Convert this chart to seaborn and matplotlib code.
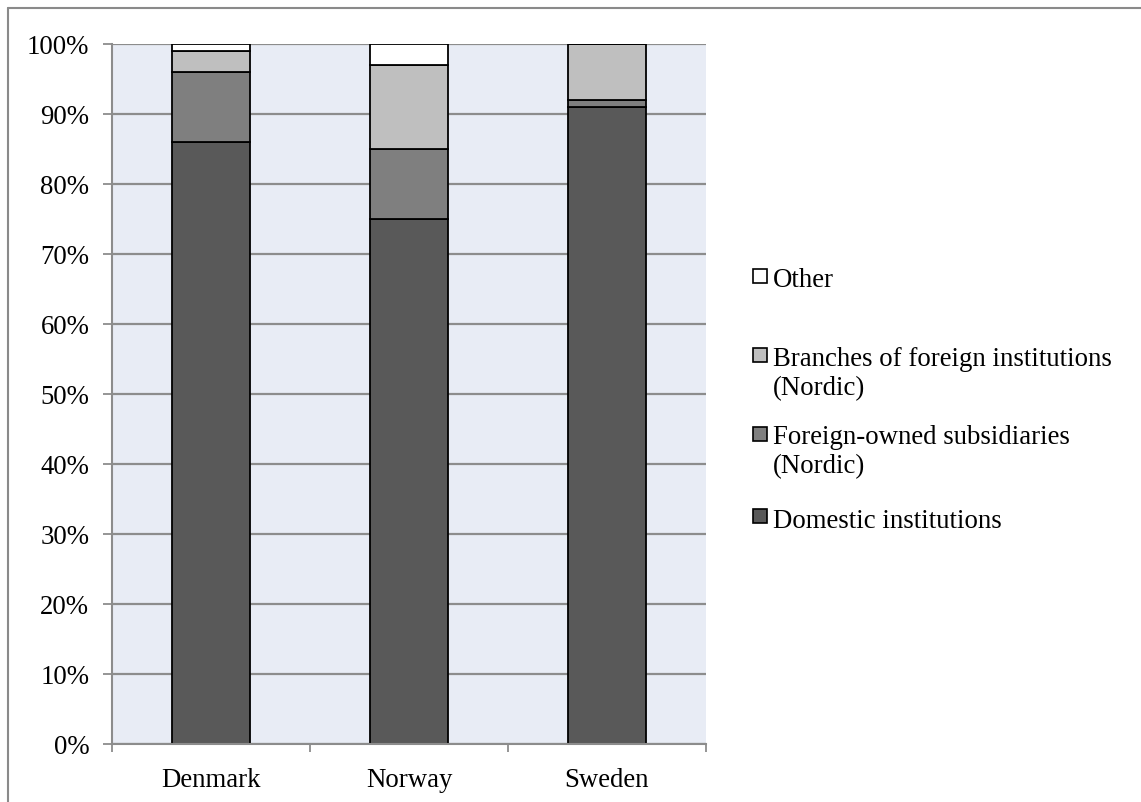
import numpy as np
import matplotlib
matplotlib.use("Agg")
import matplotlib.pyplot as plt
from matplotlib.patches import Rectangle
from matplotlib.lines import Line2D
import seaborn as sns

# Market shares by ownership type (percent of total)
countries = ["Denmark", "Norway", "Sweden"]
domestic = [86, 75, 91]
foreign_subsidiaries = [10, 10, 1]
foreign_branches = [3, 12, 8]
other = [1, 3, 0]

series_labels = [
    "Domestic institutions",
    "Foreign-owned subsidiaries\n(Nordic)",
    "Branches of foreign institutions\n(Nordic)",
    "Other",
]
series_colors = ["#595959", "#7f7f7f", "#bfbfbf", "#ffffff"]
y_ticks = [0, 10, 20, 30, 40, 50, 60, 70, 80, 90, 100]
y_tick_labels = [f"{v}%" for v in y_ticks]

sns.set_theme(style="white")
plt.rcParams["font.family"] = ["Liberation Serif", "DejaVu Serif"]
FS = 19.3

W, H = 1141, 803
fig = plt.figure(figsize=(W / 100, H / 100), dpi=100)
fig.patch.set_facecolor("white")

# outer chart frame
fig.add_artist(Line2D([8 / W, 1.0], [1 - 9 / H, 1 - 9 / H], transform=fig.transFigure,
                      color="#8a8a8a", lw=1.5))
fig.add_artist(Line2D([8 / W, 8 / W], [0.0, 1 - 9 / H], transform=fig.transFigure,
                      color="#8a8a8a", lw=1.5))

ax = fig.add_axes([112 / W, 1 - 745 / H, 594 / W, 700 / H])
ax.set_facecolor("#e8ecf5")

layers = [domestic, foreign_subsidiaries, foreign_branches, other]
bottoms = np.zeros(len(countries))
for vals, col in zip(layers, series_colors):
    vals = np.asarray(vals, dtype=float)
    sns.barplot(x=countries, y=vals, bottom=bottoms, color=col, width=0.39,
                edgecolor="black", linewidth=1.3, saturation=1, ax=ax, zorder=3)
    bottoms = bottoms + vals

ax.set_ylim(0, 100)
ax.set_xlim(-0.5, 2.5)
ax.set_yticks(y_ticks)
ax.set_yticklabels(y_tick_labels, fontsize=FS)
ax.yaxis.grid(True, color="#8c8c8c", lw=1.6, zorder=0)
ax.set_axisbelow(True)

# tick marks on category boundaries, labels at category centres
ax.set_xticks([-0.5, 0.5, 1.5, 2.5])
ax.set_xticklabels([])
ax.set_xticks([0, 1, 2], minor=True)
ax.set_xticklabels(countries, minor=True, fontsize=FS)
ax.tick_params(axis="x", which="major", direction="out", length=5.5, width=1.3,
               color="#8c8c8c", bottom=True)
ax.tick_params(axis="x", which="minor", length=0, pad=16.5, colors="black")
ax.tick_params(axis="y", direction="out", length=6.5, width=1.3, color="#8c8c8c",
               left=True, pad=9.8, labelcolor="black")
ax.set_xlabel("")
ax.set_ylabel("")

for side in ["top", "right"]:
    ax.spines[side].set_visible(False)
for side in ["left", "bottom"]:
    ax.spines[side].set_color("#8c8c8c")
    ax.spines[side].set_linewidth(1.5)
    ax.spines[side].set_zorder(4)

# legend, listed from the top layer down: (series, marker centre, last-line baseline) in px
legend_rows = [(3, 277, 287), (2, 356, 395), (1, 435, 473), (0, 517, 528)]
for idx, yc, yb in legend_rows:
    fig.add_artist(Rectangle((753 / W, 1 - (yc + 7) / H), 14 / W, 14 / H,
                             transform=fig.transFigure, facecolor=series_colors[idx],
                             edgecolor="black", lw=1.2))
    fig.text(773 / W, 1 - yb / H, series_labels[idx], fontsize=FS, va="baseline",
             ha="left", color="black", linespacing=1.2)

fig.savefig("out.png", dpi=100)
